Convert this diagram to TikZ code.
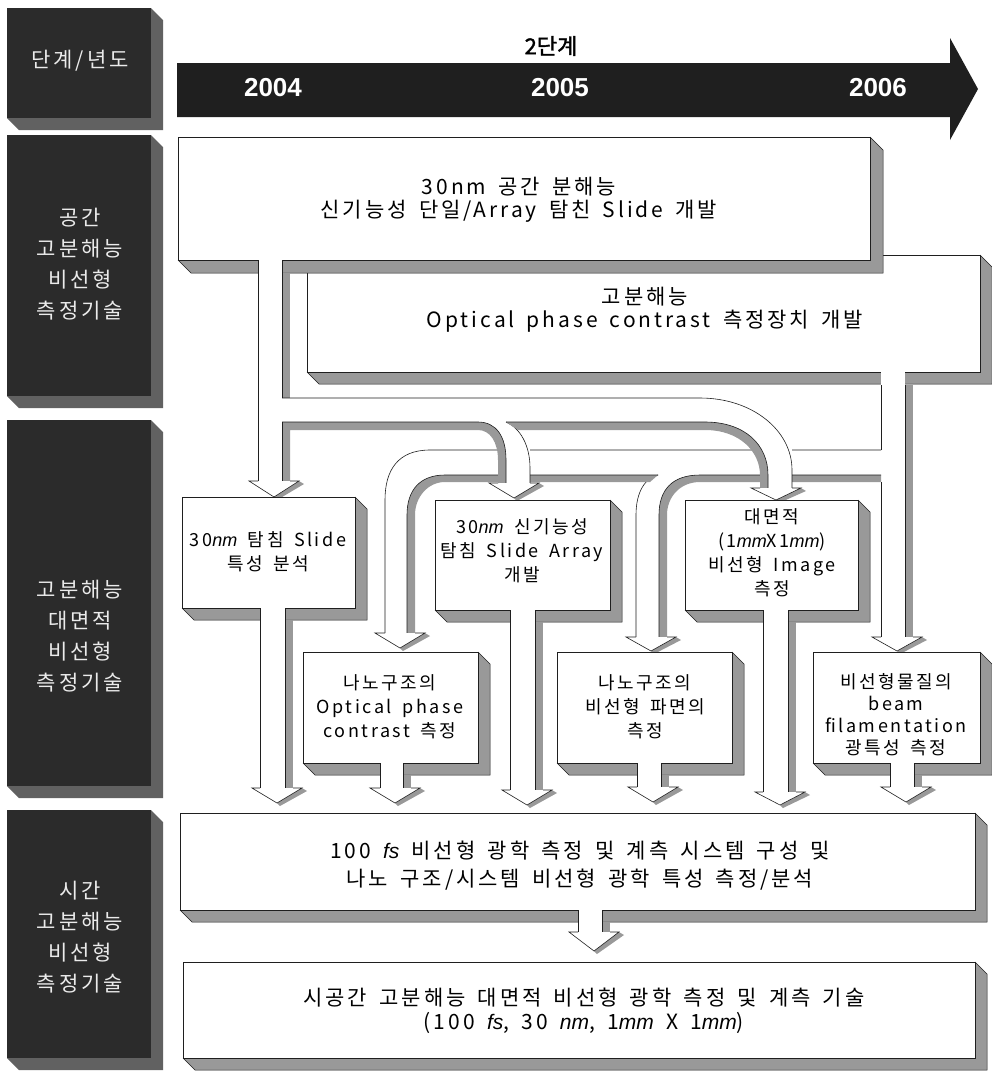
\documentclass[tikz,border=0pt]{standalone}
\usepackage{fontspec}
\setmainfont{Noto Sans CJK KR}[LetterSpace=14, WordSpace=1.6]
\newfontfamily\krb{Noto Sans CJK KR}[FakeBold=1.5]
\newfontfamily\ls{Liberation Sans}
\usetikzlibrary{calc}
\definecolor{shd}{gray}{0.6}
\definecolor{dk}{gray}{0.17}
\definecolor{dkside}{gray}{0.38}
\definecolor{lnc}{gray}{0.12}
\newcommand\nmit[1]{{\ls\itshape #1}}
% white 3D box: x0 y0 x1 y1 depth
\newcommand\wbox[5]{%
  \fill[shd] (#3,#2) -- (#3+#5,#2+#5) -- (#3+#5,#4+#5) -- (#1+#5,#4+#5) -- (#1,#4) -- cycle;
  \draw[lnc, line width=.5pt] (#3,#2) -- (#3+#5,#2+#5) -- (#3+#5,#4+#5) -- (#1+#5,#4+#5) -- (#1,#4);
  \draw[lnc, line width=.6pt, fill=white] (#1,#2) rectangle (#3,#4);
}
% dark 3D box
\newcommand\dbox[5]{%
  \fill[dkside] (#3,#2) -- (#3+#5,#2+#5) -- (#3+#5,#4+#5) -- (#1+#5,#4+#5) -- (#1,#4) -- cycle;
  \fill[dk] (#1,#2) rectangle (#3,#4);
}
% arrow head: cx, y0, height, shaft left, shaft right
\newcommand\ahd[5]{%
  \fill[shd] (#1+25,#2) -- (#1+30,#2+3) -- (#1+3,#2+#3+3) -- (#1,#2+#3) -- cycle;
  \fill[white] (#1-25,#2) -- (#1+25,#2) -- (#1,#2+#3) -- cycle;
  \draw[lnc, line width=.6pt] (#4,#2) -- (#1-25,#2) -- (#1,#2+#3) -- (#1+25,#2) -- (#5,#2);
}
% straight down shaft: white xl..xr, shaded xr..xr+8 ; y0 top, y1 bottom, ys top of shade
\newcommand\dshaft[5]{%
  \fill[white] (#1,#3) rectangle (#2,#4);
  \fill[shd] (#2,#5) rectangle (#2+8,#4);
  \draw[lnc, line width=.6pt] (#1,#3+1) -- (#1,#4);
  \draw[lnc, line width=.6pt] (#2,#3+1) -- (#2,#4);
}
\begin{document}
\begin{tikzpicture}[x=1pt,y=-1pt,
  ln/.style={lnc, line width=.6pt},
  txt/.style={align=center, inner sep=0pt, font=\fontsize{18}{24}\selectfont},
  bigtxt/.style={align=center, inner sep=0pt, font=\fontsize{21}{23}\selectfont},
  lefttxt/.style={align=center, inner sep=0pt, text=black!8, font=\fontsize{21}{31}\selectfont},
  yr/.style={inner sep=0pt, text=white, font=\ls\bfseries\fontsize{26}{28}\selectfont}]
\useasboundingbox (0,0) rectangle (992,1072);
\fill[white] (0,0) rectangle (992,1072);

% ---------- left column ----------
\dbox{7}{8}{151}{118}{12}
\node[lefttxt] (l1) at (80,61) {단계/년도};
\dbox{7}{135}{151}{396}{12}
\node[lefttxt] (l2) at (80,264) {공간\\고분해능\\비선형\\측정기술};
\dbox{7}{420}{151}{786}{12}
\node[lefttxt] (l3) at (80,636) {고분해능\\대면적\\비선형\\측정기술};
\dbox{7}{810}{151}{1058}{12}
\node[lefttxt] (l4) at (80,937) {시간\\고분해능\\비선형\\측정기술};

% ---------- timeline ----------
\fill[black!88] (177,63) -- (950,63) -- (950,38) -- (978,89) -- (950,140) -- (950,117) -- (177,117) -- cycle;
\node[inner sep=0pt, font=\krb\fontsize{22}{24}\selectfont] (stage) at (551,46) {2단계};
\node[yr] (y4) at (273,88) {2004};
\node[yr] (y5) at (560,88) {2005};
\node[yr] (y6) at (878,88) {2006};

% ---------- box 2 and top box ----------
\wbox{307}{255}{980}{372}{12}
\node[bigtxt] (b2) at (645,310) {고분해능\\Optical phase contrast 측정장치 개발};
\wbox{178}{137}{870}{260}{13}
\node[bigtxt] (tb) at (519,200) {30nm 공간 분해능\\신기능성 단일/Array 탐친 Slide 개발};

% ---------- shaft S1 from top box ----------
\fill[white] (258.3,259) rectangle (281.7,481);
\draw[ln] (258,260) -- (258,481);
\fill[shd] (282,273) rectangle (290,398);
\draw[ln] (282,260) -- (282,398);

% ---------- pipe B (from box 2) ----------
\fill[white] (881.3,371) rectangle (904.7,637);
\fill[shd] (905,385) rectangle (913,637);
\draw[ln] (881,385) -- (881,450);
\draw[ln] (881,482) -- (881,637);
\draw[ln] (905,385) -- (905,637);
\draw[ln] (881,450) -- (430,450) .. controls (398,450) and (385,470) .. (385,500) -- (385,633);
\fill[shd] (881,475) -- (700,475) .. controls (672,475) and (659,490) .. (659,515) -- (659,637) -- (667,637) -- (667,515) .. controls (667,497) and (680,482) .. (700,482) -- (881,482) -- cycle;
\draw[ln] (881,475) -- (700,475) .. controls (672,475) and (659,490) .. (659,515) -- (659,637);
\draw[ln] (636,637) -- (636,515) .. controls (636,492) and (645,478) .. (658,475);
\fill[shd] (658,475) -- (445,475) .. controls (420,475) and (407,490) .. (407,515) -- (407,633) -- (415,633) -- (415,515) .. controls (415,497) and (428,482) .. (445,482) -- (650,482) -- cycle;
\draw[ln] (658,475) -- (445,475) .. controls (420,475) and (407,490) .. (407,515) -- (407,633);

% ---------- pipe T (from top box via S1) ----------
\fill[white] (498,446) rectangle (530,483);
\fill[white] (760,446) rectangle (792,488);
\draw[ln] (282,398) -- (700,398) .. controls (752,398) and (792,430) .. (792,470) -- (792,488);
\fill[shd] (282,481) -- (282,422) -- (478,422) .. controls (496,422) and (506,436) .. (506,460) -- (506,483) -- (498,483) -- (498,460) .. controls (498,442) and (490,430) .. (478,430) -- (290,430) -- (290,481) -- cycle;
\draw[ln] (282,422) -- (478,422) .. controls (496,422) and (506,436) .. (506,460) -- (506,483);
\draw[ln] (282,422) -- (282,481);
\draw[ln] (530,483) -- (530,468) .. controls (530,445) and (520,428) .. (506,422);
\fill[shd] (506,422) -- (705,422) .. controls (745,422) and (768,445) .. (768,475) -- (768,488) -- (760,488) -- (760,475) .. controls (760,452) and (740,430) .. (705,430) -- (518,430) -- cycle;
\draw[ln] (506,422) -- (705,422) .. controls (745,422) and (768,445) .. (768,475) -- (768,488);

% ---------- arrow heads into middle boxes ----------
\ahd{274}{481}{16}{258}{290}
\ahd{514}{483}{15}{498}{530}
\ahd{776}{488}{12}{760}{792}
\ahd{400}{633}{15}{385}{415}
\ahd{651}{637}{14}{636}{667}
\ahd{897}{637}{14}{881}{913}

% ---------- middle boxes ----------
\wbox{182}{497}{355}{608}{12}
\node[txt] (ba) at (268,552) {30\nmit{nm} 탐침 Slide\\특성 분석};
\wbox{435}{500}{610}{610}{12}
\node[txt] (bb) at (522,551) {30\nmit{nm} 신기능성\\탐침 Slide Array\\개발};
\wbox{685}{500}{858}{610}{12}
\node[txt] (bc) at (772,553) {대면적\\(1\nmit{mm}X1\nmit{mm})\\비선형 Image\\측정};
\wbox{303}{652}{478}{763}{12}
\node[txt] (bd) at (390,707) {나노구조의\\Optical phase\\contrast 측정};
\wbox{557}{652}{732}{763}{12}
\node[txt] (be) at (645,707) {나노구조의\\비선형 파면의\\측정};
\wbox{813}{652}{980}{763}{12}
\node[txt, font=\fontsize{18}{22}\selectfont] (bf) at (896,715) {비선형물질의\\beam\\filamentation\\광특성 측정};

% ---------- down arrows to big box ----------
\dshaft{260}{285}{607}{788}{620}
\ahd{277}{788}{15}{260}{293}
\dshaft{510}{535}{609}{790}{622}
\ahd{527}{790}{15}{510}{543}
\dshaft{763}{788}{609}{792}{622}
\ahd{780}{792}{13}{763}{796}
\dshaft{380}{403}{762}{788}{775}
\ahd{395}{788}{15}{380}{411}
\dshaft{637}{661}{762}{787}{775}
\ahd{653}{787}{15}{637}{669}
\dshaft{890}{914}{762}{787}{775}
\ahd{906}{787}{15}{890}{922}

% ---------- big boxes ----------
\wbox{180}{813}{975}{910}{12}
\node[bigtxt, font=\fontsize{21}{28}\selectfont] (bb1) at (580,866) {100 \nmit{fs} 비선형 광학 측정 및 계측 시스템 구성 및\\나노 구조/시스템 비선형 광학 특성 측정/분석};
\dshaft{578}{602}{909}{932}{922}
\ahd{594}{932}{19}{578}{610}
\wbox{183}{962}{975}{1058}{12}
\node[bigtxt, font=\fontsize{21}{24}\selectfont] (bb2) at (584,1011) {시공간 고분해능 대면적 비선형 광학 측정 및 계측 기술\\(100 \nmit{fs}, 30 \nmit{nm}, 1\nmit{mm} X 1\nmit{mm})};
\end{tikzpicture}
\end{document}
